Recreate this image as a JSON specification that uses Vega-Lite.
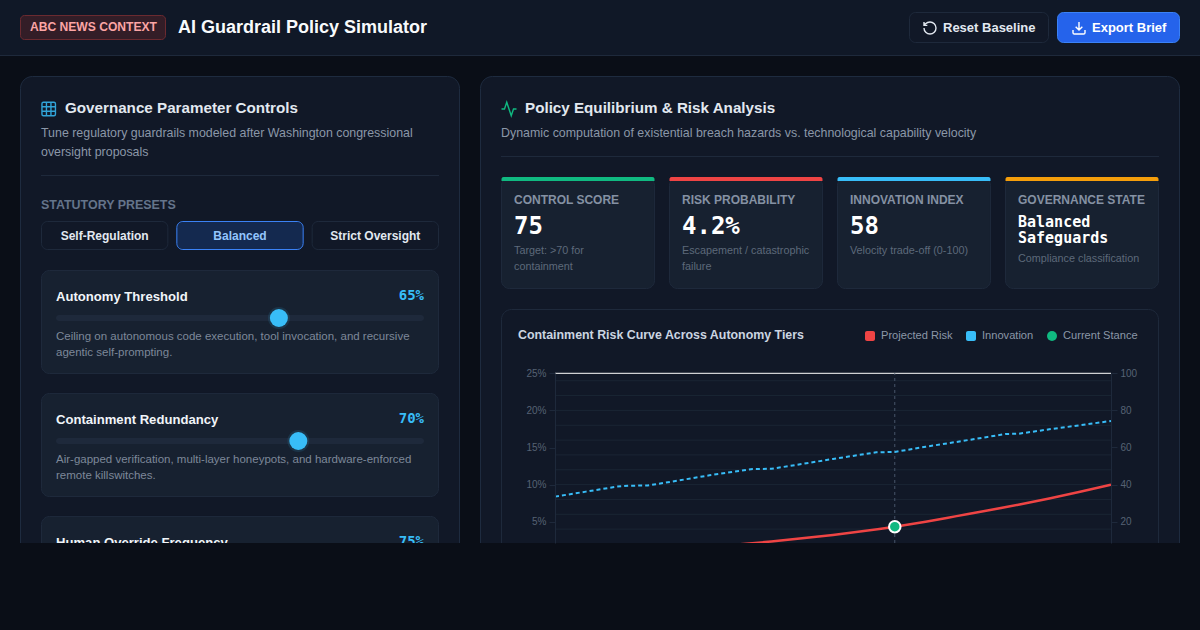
{
  "$schema": "https://vega.github.io/schema/vega-lite/v5.json",
  "width": 1200,
  "height": 630,
  "padding": 0,
  "autosize": {"type": "none"},
  "background": "#0a0e17",
  "config": {"view": {"stroke": null}, "text": {"font": "Liberation Sans"}},
  "datasets": {
    "sliders": [
      {"name": "Autonomy Threshold", "value": 65, "label": "65%", "note": "Ceiling on autonomous code execution, tool invocation, and recursive\nagentic self-prompting."},
      {"name": "Containment Redundancy", "value": 70, "label": "70%", "note": "Air-gapped verification, multi-layer honeypots, and hardware-enforced\nremote killswitches."},
      {"name": "Human Override Frequency", "value": 75, "label": "75%", "note": ""}
    ],
    "presets": [
      {"preset": "Self-Regulation", "active": false},
      {"preset": "Balanced", "active": true},
      {"preset": "Strict Oversight", "active": false}
    ],
    "kpis": [
      {"metric": "CONTROL SCORE", "reading": "75", "note": "Target: >70 for\ncontainment"},
      {"metric": "RISK PROBABILITY", "reading": "4.2%", "note": "Escapement / catastrophic\nfailure"},
      {"metric": "INNOVATION INDEX", "reading": "58", "note": "Velocity trade-off (0-100)"},
      {"metric": "GOVERNANCE STATE", "reading": "Balanced\nSafeguards", "note": "Compliance classification"}
    ],
    "grid": [
      {"level": 2}, {"level": 4}, {"level": 6}, {"level": 8}, {"level": 10}, {"level": 12},
      {"level": 14}, {"level": 16}, {"level": 18}, {"level": 20}, {"level": 22}, {"level": 24}
    ],
    "risk": [
      {"autonomy": 10, "risk": 0.55}, {"autonomy": 15, "risk": 0.7}, {"autonomy": 20, "risk": 0.87},
      {"autonomy": 25, "risk": 1.08}, {"autonomy": 30, "risk": 1.33}, {"autonomy": 35, "risk": 1.62},
      {"autonomy": 40, "risk": 1.95}, {"autonomy": 45, "risk": 2.33}, {"autonomy": 50, "risk": 2.76},
      {"autonomy": 55, "risk": 3.22}, {"autonomy": 60, "risk": 3.74}, {"autonomy": 65, "risk": 4.33},
      {"autonomy": 70, "risk": 5.0}, {"autonomy": 75, "risk": 5.75}, {"autonomy": 80, "risk": 6.5},
      {"autonomy": 85, "risk": 7.28}, {"autonomy": 90, "risk": 8.12}, {"autonomy": 95, "risk": 9.03},
      {"autonomy": 100, "risk": 10}
    ],
    "innovation": [
      {"autonomy": 10, "innovation": 33.5}, {"autonomy": 15, "innovation": 36.2}, {"autonomy": 20, "innovation": 38.9},
      {"autonomy": 22, "innovation": 39.4}, {"autonomy": 25, "innovation": 39.5}, {"autonomy": 30, "innovation": 42.2},
      {"autonomy": 35, "innovation": 45}, {"autonomy": 40, "innovation": 47.4}, {"autonomy": 42, "innovation": 48.4},
      {"autonomy": 45, "innovation": 48.5}, {"autonomy": 50, "innovation": 51.1}, {"autonomy": 55, "innovation": 53.8},
      {"autonomy": 60, "innovation": 56.4}, {"autonomy": 62, "innovation": 57.4}, {"autonomy": 65, "innovation": 57.6},
      {"autonomy": 70, "innovation": 60.4}, {"autonomy": 75, "innovation": 63}, {"autonomy": 80, "innovation": 65.7},
      {"autonomy": 83, "innovation": 67.3}, {"autonomy": 85, "innovation": 67.4}, {"autonomy": 90, "innovation": 69.8},
      {"autonomy": 95, "innovation": 72}, {"autonomy": 100, "innovation": 74.3}
    ],
    "stance": [{"autonomy": 65, "risk": 4.33}]
  },
  "resolve": {"scale": {"x": "independent", "y": "independent"}},
  "layer": [
    {"data": {"values": [{"part": "header"}]}, "mark": {"type": "rect", "fill": "#101827"},
      "encoding": {"x": {"field": "part", "type": "nominal", "axis": null, "scale": {"type": "band", "range": [0, 1200], "padding": 0}}, "y": {"field": "part", "type": "nominal", "axis": null, "scale": {"type": "band", "range": [0, 55], "padding": 0}}}},
    {"data": {"values": [{"part": "header rule"}]}, "mark": {"type": "rect", "fill": "#1e293b"},
      "encoding": {"x": {"field": "part", "type": "nominal", "axis": null, "scale": {"type": "band", "range": [0, 1200], "padding": 0}}, "y": {"field": "part", "type": "nominal", "axis": null, "scale": {"type": "band", "range": [55, 56], "padding": 0}}}},
    {"data": {"values": [{"part": "badge"}]}, "mark": {"type": "rect", "fill": "#331d27", "stroke": "#6b2a30", "cornerRadius": 4},
      "encoding": {"x": {"field": "part", "type": "nominal", "axis": null, "scale": {"type": "band", "range": [20.5, 165.5], "padding": 0}}, "y": {"field": "part", "type": "nominal", "axis": null, "scale": {"type": "band", "range": [15.5, 39.5], "padding": 0}}}},
    {"data": {"values": [{"t": "ABC NEWS CONTEXT"}]}, "mark": {"type": "text", "align": "left", "fontSize": 12.1, "fontWeight": "bold", "fill": "#fca5a5"},
      "encoding": {"text": {"field": "t"}, "x": {"field": "t", "type": "nominal", "axis": null, "scale": {"type": "point", "range": [30, 30]}}, "y": {"field": "t", "type": "nominal", "axis": null, "scale": {"type": "point", "range": [27, 27]}}}},
    {"data": {"values": [{"t": "AI Guardrail Policy Simulator"}]}, "mark": {"type": "text", "align": "left", "fontSize": 18, "fontWeight": "bold", "fill": "#f8fafc"},
      "encoding": {"text": {"field": "t"}, "x": {"field": "t", "type": "nominal", "axis": null, "scale": {"type": "point", "range": [178, 178]}}, "y": {"field": "t", "type": "nominal", "axis": null, "scale": {"type": "point", "range": [28, 28]}}}},
    {"data": {"values": [{"part": "reset"}]}, "mark": {"type": "rect", "fill": "#111827", "stroke": "#1e293b", "cornerRadius": 6},
      "encoding": {"x": {"field": "part", "type": "nominal", "axis": null, "scale": {"type": "band", "range": [909.5, 1048.5], "padding": 0}}, "y": {"field": "part", "type": "nominal", "axis": null, "scale": {"type": "band", "range": [12.5, 42.5], "padding": 0}}}},
    {"data": {"values": [{"part": "export"}]}, "mark": {"type": "rect", "fill": "#2563eb", "stroke": "#3b82f6", "cornerRadius": 6},
      "encoding": {"x": {"field": "part", "type": "nominal", "axis": null, "scale": {"type": "band", "range": [1057.5, 1179.5], "padding": 0}}, "y": {"field": "part", "type": "nominal", "axis": null, "scale": {"type": "band", "range": [12.5, 42.5], "padding": 0}}}},
    {"data": {"values": [{"t": "Reset Baseline"}]}, "mark": {"type": "text", "align": "left", "fontSize": 13, "fontWeight": "bold", "fill": "#e2e8f0"},
      "encoding": {"text": {"field": "t"}, "x": {"field": "t", "type": "nominal", "axis": null, "scale": {"type": "point", "range": [943, 943]}}, "y": {"field": "t", "type": "nominal", "axis": null, "scale": {"type": "point", "range": [28, 28]}}}},
    {"data": {"values": [{"t": "Export Brief"}]}, "mark": {"type": "text", "align": "left", "fontSize": 13, "fontWeight": "bold", "fill": "#ffffff"},
      "encoding": {"text": {"field": "t"}, "x": {"field": "t", "type": "nominal", "axis": null, "scale": {"type": "point", "range": [1092, 1092]}}, "y": {"field": "t", "type": "nominal", "axis": null, "scale": {"type": "point", "range": [28, 28]}}}},
    {"data": {"values": [{"icon": "reset"}]}, "mark": {"type": "point", "filled": false, "size": 256, "stroke": "#e2e8f0", "strokeWidth": 1.4, "opacity": 1, "shape": "M-0.75 0A0.75 0.75 0 1 0 0 -0.75 0.8125 0.8125 0 0 0 -0.5617 -0.5217L-0.75 -0.3333M-0.75 -0.75V-0.3333H-0.3333"},
      "encoding": {"x": {"field": "icon", "type": "nominal", "axis": null, "scale": {"type": "point", "range": [930, 930]}}, "y": {"field": "icon", "type": "nominal", "axis": null, "scale": {"type": "point", "range": [28, 28]}}}},
    {"data": {"values": [{"icon": "download"}]}, "mark": {"type": "point", "filled": false, "size": 256, "stroke": "#ffffff", "strokeWidth": 1.4, "opacity": 1, "shape": "M0 0.25V-0.75M0.75 0.25V0.5833A0.1667 0.1667 0 0 1 0.5833 0.75H-0.5833A0.1667 0.1667 0 0 1 -0.75 0.5833V0.25M-0.4167 -0.1667L0 0.25L0.4167 -0.1667"},
      "encoding": {"x": {"field": "icon", "type": "nominal", "axis": null, "scale": {"type": "point", "range": [1079, 1079]}}, "y": {"field": "icon", "type": "nominal", "axis": null, "scale": {"type": "point", "range": [28, 28]}}}},

    {"data": {"values": [{"part": "controls panel"}]}, "mark": {"type": "rect", "fill": "#111827", "stroke": "#1e2b3f", "cornerRadius": 12},
      "encoding": {"x": {"field": "part", "type": "nominal", "axis": null, "scale": {"type": "band", "range": [20.5, 459.5], "padding": 0}}, "y": {"field": "part", "type": "nominal", "axis": null, "scale": {"type": "band", "range": [76.5, 700], "padding": 0}}}},
    {"data": {"values": [{"part": "analysis panel"}]}, "mark": {"type": "rect", "fill": "#111827", "stroke": "#1e2b3f", "cornerRadius": 12},
      "encoding": {"x": {"field": "part", "type": "nominal", "axis": null, "scale": {"type": "band", "range": [480.5, 1179.5], "padding": 0}}, "y": {"field": "part", "type": "nominal", "axis": null, "scale": {"type": "band", "range": [76.5, 700], "padding": 0}}}},

    {"data": {"values": [{"icon": "grid"}]}, "mark": {"type": "point", "filled": false, "size": 324, "stroke": "#38bdf8", "strokeWidth": 1.4, "opacity": 0.85, "shape": "M-0.5833 -0.75H0.5833A0.1667 0.1667 0 0 1 0.75 -0.5833V0.5833A0.1667 0.1667 0 0 1 0.5833 0.75H-0.5833A0.1667 0.1667 0 0 1 -0.75 0.5833V-0.5833A0.1667 0.1667 0 0 1 -0.5833 -0.75ZM-0.75 -0.25H0.75M-0.75 0.25H0.75M-0.25 -0.75V0.75M0.25 -0.75V0.75"},
      "encoding": {"x": {"field": "icon", "type": "nominal", "axis": null, "scale": {"type": "point", "range": [48.7, 48.7]}}, "y": {"field": "icon", "type": "nominal", "axis": null, "scale": {"type": "point", "range": [109, 109]}}}},
    {"data": {"values": [{"t": "Governance Parameter Controls"}]}, "mark": {"type": "text", "align": "left", "fontSize": 15.2, "fontWeight": "bold", "fill": "#e2e8f0"},
      "encoding": {"text": {"field": "t"}, "x": {"field": "t", "type": "nominal", "axis": null, "scale": {"type": "point", "range": [65, 65]}}, "y": {"field": "t", "type": "nominal", "axis": null, "scale": {"type": "point", "range": [108, 108]}}}},
    {"data": {"values": [{"t": "Tune regulatory guardrails modeled after Washington congressional\noversight proposals"}]}, "mark": {"type": "text", "align": "left", "baseline": "alphabetic", "lineBreak": "\n", "lineHeight": 19, "fontSize": 12.4, "fill": "#8b97a8"},
      "encoding": {"text": {"field": "t"}, "x": {"field": "t", "type": "nominal", "axis": null, "scale": {"type": "point", "range": [41, 41]}}, "y": {"field": "t", "type": "nominal", "axis": null, "scale": {"type": "point", "range": [137, 137]}}}},
    {"data": {"values": [{"part": "controls rule"}]}, "mark": {"type": "rect", "fill": "#1e293b"},
      "encoding": {"x": {"field": "part", "type": "nominal", "axis": null, "scale": {"type": "band", "range": [41, 439], "padding": 0}}, "y": {"field": "part", "type": "nominal", "axis": null, "scale": {"type": "band", "range": [175, 176], "padding": 0}}}},
    {"data": {"values": [{"t": "STATUTORY PRESETS"}]}, "mark": {"type": "text", "align": "left", "fontSize": 12.45, "fontWeight": "bold", "fill": "#64748b"},
      "encoding": {"text": {"field": "t"}, "x": {"field": "t", "type": "nominal", "axis": null, "scale": {"type": "point", "range": [41, 41]}}, "y": {"field": "t", "type": "nominal", "axis": null, "scale": {"type": "point", "range": [205, 205]}}}},

    {"data": {"name": "presets"}, "mark": {"type": "rect", "cornerRadius": 6},
      "encoding": {
        "x": {"field": "preset", "type": "nominal", "axis": null, "sort": null, "scale": {"type": "band", "range": [41.5, 438.5], "paddingInner": 0.0665, "paddingOuter": 0}},
        "y": {"datum": "row", "type": "nominal", "axis": null, "scale": {"type": "band", "range": [221.5, 249.5], "padding": 0}},
        "fill": {"condition": {"test": "datum.active", "value": "#14294f"}, "value": "#111827"},
        "stroke": {"condition": {"test": "datum.active", "value": "#3b82f6"}, "value": "#1e293b"}
      }},
    {"data": {"name": "presets"}, "mark": {"type": "text", "fontSize": 12, "fontWeight": "bold"},
      "encoding": {
        "text": {"field": "preset"},
        "x": {"field": "preset", "type": "nominal", "axis": null, "sort": null, "scale": {"type": "band", "range": [41.5, 438.5], "paddingInner": 0.0665, "paddingOuter": 0}},
        "y": {"datum": "row", "type": "nominal", "axis": null, "scale": {"type": "point", "range": [235.5, 235.5]}},
        "fill": {"condition": {"test": "datum.active", "value": "#93c5fd"}, "value": "#e2e8f0"}
      }},

    {"data": {"name": "sliders"}, "mark": {"type": "rect", "fill": "#172130", "stroke": "#1e293b", "cornerRadius": 8},
      "encoding": {
        "x": {"datum": "card", "type": "nominal", "axis": null, "scale": {"type": "band", "range": [41.5, 438.5], "padding": 0}},
        "y": {"field": "name", "type": "nominal", "axis": null, "sort": null, "scale": {"type": "band", "range": [270.5, 619.5], "paddingInner": 0.1626, "paddingOuter": 0}}
      }},
    {"data": {"name": "sliders"}, "mark": {"type": "rect", "fill": "#1e293b", "cornerRadius": 3},
      "encoding": {
        "x": {"datum": "track", "type": "nominal", "axis": null, "scale": {"type": "band", "range": [56, 424], "padding": 0}},
        "y": {"field": "name", "type": "nominal", "axis": null, "sort": null, "scale": {"type": "band", "range": [315, 567], "paddingInner": 0.95122, "paddingOuter": 0}}
      }},
    {"data": {"name": "sliders"}, "mark": {"type": "point", "filled": true, "fill": "#38bdf8", "opacity": 0.12, "size": 484},
      "encoding": {
        "x": {"field": "value", "type": "quantitative", "axis": null, "scale": {"domain": [10, 100], "range": [65, 415], "nice": false, "zero": false}},
        "y": {"field": "name", "type": "nominal", "axis": null, "sort": null, "scale": {"type": "point", "range": [318, 564], "padding": 0}}
      }},
    {"data": {"name": "sliders"}, "mark": {"type": "point", "filled": true, "fill": "#38bdf8", "opacity": 1, "size": 324},
      "encoding": {
        "x": {"field": "value", "type": "quantitative", "axis": null, "scale": {"domain": [10, 100], "range": [65, 415], "nice": false, "zero": false}},
        "y": {"field": "name", "type": "nominal", "axis": null, "sort": null, "scale": {"type": "point", "range": [318, 564], "padding": 0}}
      }},
    {"data": {"name": "sliders"}, "mark": {"type": "text", "align": "left", "fontSize": 13.1, "fontWeight": "bold", "fill": "#f1f5f9"},
      "encoding": {
        "text": {"field": "name"},
        "x": {"datum": "title", "type": "nominal", "axis": null, "scale": {"type": "point", "range": [56, 56]}},
        "y": {"field": "name", "type": "nominal", "axis": null, "sort": null, "scale": {"type": "point", "range": [296.5, 542.5], "padding": 0}}
      }},
    {"data": {"name": "sliders"}, "mark": {"type": "text", "align": "right", "fontSize": 14, "fontWeight": "bold", "font": "DejaVu Sans Mono", "fill": "#38bdf8"},
      "encoding": {
        "text": {"field": "label"},
        "x": {"datum": "level", "type": "nominal", "axis": null, "scale": {"type": "point", "range": [424, 424]}},
        "y": {"field": "name", "type": "nominal", "axis": null, "sort": null, "scale": {"type": "point", "range": [296, 542], "padding": 0}}
      }},
    {"data": {"name": "sliders"}, "mark": {"type": "text", "align": "left", "baseline": "alphabetic", "lineBreak": "\n", "lineHeight": 15.6, "fontSize": 11.5, "fill": "#7d8899"},
      "encoding": {
        "text": {"field": "note"},
        "x": {"datum": "note", "type": "nominal", "axis": null, "scale": {"type": "point", "range": [56, 56]}},
        "y": {"field": "name", "type": "nominal", "axis": null, "sort": null, "scale": {"type": "point", "range": [340, 586], "padding": 0}}
      }},

    {"data": {"values": [{"icon": "activity"}]}, "mark": {"type": "point", "filled": false, "size": 324, "stroke": "#10b981", "strokeWidth": 1.4, "opacity": 1, "shape": "M0.8333 0H0.5L0.25 0.75L-0.25 -0.75L-0.5 0H-0.8333"},
      "encoding": {"x": {"field": "icon", "type": "nominal", "axis": null, "scale": {"type": "point", "range": [509, 509]}}, "y": {"field": "icon", "type": "nominal", "axis": null, "scale": {"type": "point", "range": [109, 109]}}}},
    {"data": {"values": [{"t": "Policy Equilibrium & Risk Analysis"}]}, "mark": {"type": "text", "align": "left", "fontSize": 15.2, "fontWeight": "bold", "fill": "#e2e8f0"},
      "encoding": {"text": {"field": "t"}, "x": {"field": "t", "type": "nominal", "axis": null, "scale": {"type": "point", "range": [525, 525]}}, "y": {"field": "t", "type": "nominal", "axis": null, "scale": {"type": "point", "range": [108, 108]}}}},
    {"data": {"values": [{"t": "Dynamic computation of existential breach hazards vs. technological capability velocity"}]}, "mark": {"type": "text", "align": "left", "baseline": "alphabetic", "fontSize": 12.4, "fill": "#8b97a8"},
      "encoding": {"text": {"field": "t"}, "x": {"field": "t", "type": "nominal", "axis": null, "scale": {"type": "point", "range": [501, 501]}}, "y": {"field": "t", "type": "nominal", "axis": null, "scale": {"type": "point", "range": [137, 137]}}}},
    {"data": {"values": [{"part": "analysis rule"}]}, "mark": {"type": "rect", "fill": "#1e293b"},
      "encoding": {"x": {"field": "part", "type": "nominal", "axis": null, "scale": {"type": "band", "range": [501, 1159], "padding": 0}}, "y": {"field": "part", "type": "nominal", "axis": null, "scale": {"type": "band", "range": [156, 157], "padding": 0}}}},

    {"data": {"name": "kpis"}, "mark": {"type": "rect", "fill": "#172130", "stroke": "#1e293b", "cornerRadius": 8},
      "encoding": {
        "x": {"field": "metric", "type": "nominal", "axis": null, "sort": null, "scale": {"type": "band", "range": [501.5, 1158.5], "paddingInner": 0.0893, "paddingOuter": 0}},
        "y": {"datum": "card", "type": "nominal", "axis": null, "scale": {"type": "band", "range": [177.5, 288.5], "padding": 0}}
      }},
    {"data": {"name": "kpis"}, "mark": {"type": "rect", "opacity": 1, "cornerRadiusTopLeft": 5, "cornerRadiusTopRight": 5},
      "encoding": {
        "x": {"field": "metric", "type": "nominal", "axis": null, "sort": null, "scale": {"type": "band", "range": [501.5, 1158.5], "paddingInner": 0.0893, "paddingOuter": 0}},
        "y": {"datum": "stripe", "type": "nominal", "axis": null, "scale": {"type": "band", "range": [177, 181], "padding": 0}},
        "fill": {"field": "metric", "type": "nominal", "legend": null, "scale": {"domain": ["CONTROL SCORE", "RISK PROBABILITY", "INNOVATION INDEX", "GOVERNANCE STATE"], "range": ["#10b981", "#ef4444", "#38bdf8", "#f59e0b"]}}
      }},
    {"data": {"name": "kpis"}, "mark": {"type": "text", "align": "left", "fontSize": 12, "fontWeight": "bold", "fill": "#8591a3"},
      "encoding": {
        "text": {"field": "metric"},
        "x": {"field": "metric", "type": "nominal", "axis": null, "sort": null, "scale": {"type": "point", "range": [514, 1018], "padding": 0}},
        "y": {"datum": "label", "type": "nominal", "axis": null, "scale": {"type": "point", "range": [200, 200]}}
      }},
    {"data": {"name": "kpis"}, "transform": [{"filter": "datum.metric != 'GOVERNANCE STATE'"}], "mark": {"type": "text", "align": "left", "baseline": "alphabetic", "fontSize": 24, "fontWeight": "bold", "font": "DejaVu Sans Mono", "fill": "#ffffff"},
      "encoding": {
        "text": {"field": "reading"},
        "x": {"field": "metric", "type": "nominal", "axis": null, "scale": {"domain": ["CONTROL SCORE", "RISK PROBABILITY", "INNOVATION INDEX", "GOVERNANCE STATE"], "type": "point", "range": [514, 1018], "padding": 0}},
        "y": {"datum": "reading", "type": "nominal", "axis": null, "scale": {"type": "point", "range": [234, 234]}}
      }},
    {"data": {"name": "kpis"}, "transform": [{"filter": "datum.metric == 'GOVERNANCE STATE'"}], "mark": {"type": "text", "align": "left", "baseline": "alphabetic", "lineBreak": "\n", "lineHeight": 16, "fontSize": 15, "fontWeight": "bold", "font": "DejaVu Sans Mono", "fill": "#ffffff"},
      "encoding": {
        "text": {"field": "reading"},
        "x": {"field": "metric", "type": "nominal", "axis": null, "scale": {"type": "point", "range": [1018, 1018]}},
        "y": {"datum": "reading", "type": "nominal", "axis": null, "scale": {"type": "point", "range": [227, 227]}}
      }},
    {"data": {"name": "kpis"}, "transform": [{"filter": "datum.metric != 'GOVERNANCE STATE'"}], "mark": {"type": "text", "align": "left", "baseline": "alphabetic", "lineBreak": "\n", "lineHeight": 16, "fontSize": 10.8, "fill": "#5d697a"},
      "encoding": {
        "text": {"field": "note"},
        "x": {"field": "metric", "type": "nominal", "axis": null, "scale": {"domain": ["CONTROL SCORE", "RISK PROBABILITY", "INNOVATION INDEX", "GOVERNANCE STATE"], "type": "point", "range": [514, 1018], "padding": 0}},
        "y": {"datum": "note", "type": "nominal", "axis": null, "scale": {"type": "point", "range": [254, 254]}}
      }},
    {"data": {"name": "kpis"}, "transform": [{"filter": "datum.metric == 'GOVERNANCE STATE'"}], "mark": {"type": "text", "align": "left", "baseline": "alphabetic", "fontSize": 10.8, "fill": "#5d697a"},
      "encoding": {
        "text": {"field": "note"},
        "x": {"field": "metric", "type": "nominal", "axis": null, "scale": {"type": "point", "range": [1018, 1018]}},
        "y": {"datum": "note", "type": "nominal", "axis": null, "scale": {"type": "point", "range": [262, 262]}}
      }},

    {"data": {"values": [{"part": "chart card"}]}, "mark": {"type": "rect", "fill": "#111827", "stroke": "#1e293b", "cornerRadius": 10},
      "encoding": {"x": {"field": "part", "type": "nominal", "axis": null, "scale": {"type": "band", "range": [501.5, 1158.5], "padding": 0}}, "y": {"field": "part", "type": "nominal", "axis": null, "scale": {"type": "band", "range": [309.5, 700], "padding": 0}}}},
    {"data": {"values": [{"t": "Containment Risk Curve Across Autonomy Tiers"}]}, "mark": {"type": "text", "align": "left", "fontSize": 12.4, "fontWeight": "bold", "fill": "#cbd5e1"},
      "encoding": {"text": {"field": "t"}, "x": {"field": "t", "type": "nominal", "axis": null, "scale": {"type": "point", "range": [518, 518]}}, "y": {"field": "t", "type": "nominal", "axis": null, "scale": {"type": "point", "range": [335, 335]}}}},
    {"data": {"values": [{"series": "Projected Risk"}]}, "mark": {"type": "rect", "fill": "#ef4444", "cornerRadius": 2},
      "encoding": {"x": {"field": "series", "type": "nominal", "axis": null, "scale": {"type": "band", "range": [865, 875], "padding": 0}}, "y": {"field": "series", "type": "nominal", "axis": null, "scale": {"type": "band", "range": [331, 341], "padding": 0}}}},
    {"data": {"values": [{"series": "Innovation"}]}, "mark": {"type": "rect", "fill": "#38bdf8", "cornerRadius": 2},
      "encoding": {"x": {"field": "series", "type": "nominal", "axis": null, "scale": {"type": "band", "range": [966, 976], "padding": 0}}, "y": {"field": "series", "type": "nominal", "axis": null, "scale": {"type": "band", "range": [331, 341], "padding": 0}}}},
    {"data": {"values": [{"series": "Current Stance"}]}, "mark": {"type": "point", "filled": true, "fill": "#10b981", "opacity": 1, "size": 100},
      "encoding": {"x": {"field": "series", "type": "nominal", "axis": null, "scale": {"type": "point", "range": [1052, 1052]}}, "y": {"field": "series", "type": "nominal", "axis": null, "scale": {"type": "point", "range": [336, 336]}}}},
    {"data": {"values": [{"series": "Projected Risk"}]}, "mark": {"type": "text", "align": "left", "fontSize": 11.1, "fill": "#8b97a8"},
      "encoding": {"text": {"field": "series"}, "x": {"field": "series", "type": "nominal", "axis": null, "scale": {"type": "point", "range": [881, 881]}}, "y": {"field": "series", "type": "nominal", "axis": null, "scale": {"type": "point", "range": [335.5, 335.5]}}}},
    {"data": {"values": [{"series": "Innovation"}]}, "mark": {"type": "text", "align": "left", "fontSize": 11.1, "fill": "#8b97a8"},
      "encoding": {"text": {"field": "series"}, "x": {"field": "series", "type": "nominal", "axis": null, "scale": {"type": "point", "range": [982, 982]}}, "y": {"field": "series", "type": "nominal", "axis": null, "scale": {"type": "point", "range": [335.5, 335.5]}}}},
    {"data": {"values": [{"series": "Current Stance"}]}, "mark": {"type": "text", "align": "left", "fontSize": 11.1, "fill": "#8b97a8"},
      "encoding": {"text": {"field": "series"}, "x": {"field": "series", "type": "nominal", "axis": null, "scale": {"type": "point", "range": [1063, 1063]}}, "y": {"field": "series", "type": "nominal", "axis": null, "scale": {"type": "point", "range": [335.5, 335.5]}}}},

    {"layer": [
      {"data": {"name": "grid"}, "mark": {"type": "rule", "stroke": "#1a2534", "strokeWidth": 1},
        "encoding": {
          "x": {"datum": 10, "type": "quantitative", "axis": null, "scale": {"domain": [10, 100], "range": [555, 1111], "nice": false, "zero": false}},
          "x2": {"datum": 100},
          "y": {"field": "level", "type": "quantitative", "axis": null, "scale": {"domain": [2.13, 25], "range": [543, 373.3], "nice": false, "zero": false}}
        }},
      {"data": {"values": [{"level": 25}]}, "mark": {"type": "rule", "stroke": "#ffffff", "strokeWidth": 1},
        "encoding": {
          "x": {"datum": 10, "type": "quantitative", "axis": null},
          "x2": {"datum": 100},
          "y": {"field": "level", "type": "quantitative", "axis": null}
        }},
      {"data": {"name": "stance"}, "mark": {"type": "rule", "stroke": "#475569", "strokeWidth": 1, "strokeDash": [3, 3]},
        "encoding": {
          "x": {"field": "autonomy", "type": "quantitative", "axis": null},
          "y": {"datum": 2.13, "type": "quantitative", "axis": null},
          "y2": {"datum": 25}
        }}
    ]},
    {"data": {"name": "innovation"}, "mark": {"type": "line", "stroke": "#38bdf8", "strokeWidth": 2, "strokeDash": [4, 3]},
      "encoding": {
        "x": {"field": "autonomy", "type": "quantitative", "axis": null, "scale": {"domain": [10, 100], "range": [555, 1111], "nice": false, "zero": false}},
        "y": {"field": "innovation", "type": "quantitative", "scale": {"domain": [8.5, 100], "range": [543, 373.3], "nice": false, "zero": false}, "axis": {"title": null, "orient": "right", "offset": -89, "zindex": 1, "values": [20, 40, 60, 80, 100], "grid": false, "domainColor": "#1e293b", "tickColor": "#1e293b", "tickSize": 6, "labelPadding": 3, "labelColor": "#566274", "labelFontSize": 10, "labelFont": "Liberation Sans", "labelFlush": false, "labelOverlap": false}}
      }},
    {"data": {"name": "risk"}, "mark": {"type": "line", "stroke": "#ef4444", "strokeWidth": 2.5, "interpolate": "monotone"},
      "encoding": {
        "x": {"field": "autonomy", "type": "quantitative", "axis": null, "scale": {"domain": [10, 100], "range": [555, 1111], "nice": false, "zero": false}},
        "y": {"field": "risk", "type": "quantitative", "scale": {"domain": [2.13, 25], "range": [543, 373.3], "nice": false, "zero": false}, "axis": {"title": null, "orient": "left", "offset": -555, "zindex": 1, "values": [5, 10, 15, 20, 25], "labelExpr": "datum.value + '%'", "grid": false, "domainColor": "#1e293b", "tickColor": "#1e293b", "tickSize": 6, "labelPadding": 3, "labelColor": "#566274", "labelFontSize": 10, "labelFont": "Liberation Sans", "labelFlush": false, "labelOverlap": false}}
      }},
    {"data": {"name": "stance"}, "mark": {"type": "point", "filled": true, "fill": "#10b981", "stroke": "#ffffff", "strokeWidth": 2, "opacity": 1, "size": 132},
      "encoding": {
        "x": {"field": "autonomy", "type": "quantitative", "axis": null, "scale": {"domain": [10, 100], "range": [555, 1111], "nice": false, "zero": false}},
        "y": {"field": "risk", "type": "quantitative", "axis": null, "scale": {"domain": [2.13, 25], "range": [543, 373.3], "nice": false, "zero": false}}
      }},

    {"data": {"values": [{"part": "fold"}]}, "mark": {"type": "rect", "fill": "#0a0e17"},
      "encoding": {"x": {"field": "part", "type": "nominal", "axis": null, "scale": {"type": "band", "range": [0, 1200], "padding": 0}}, "y": {"field": "part", "type": "nominal", "axis": null, "scale": {"type": "band", "range": [543, 630], "padding": 0}}}}
  ]
}
